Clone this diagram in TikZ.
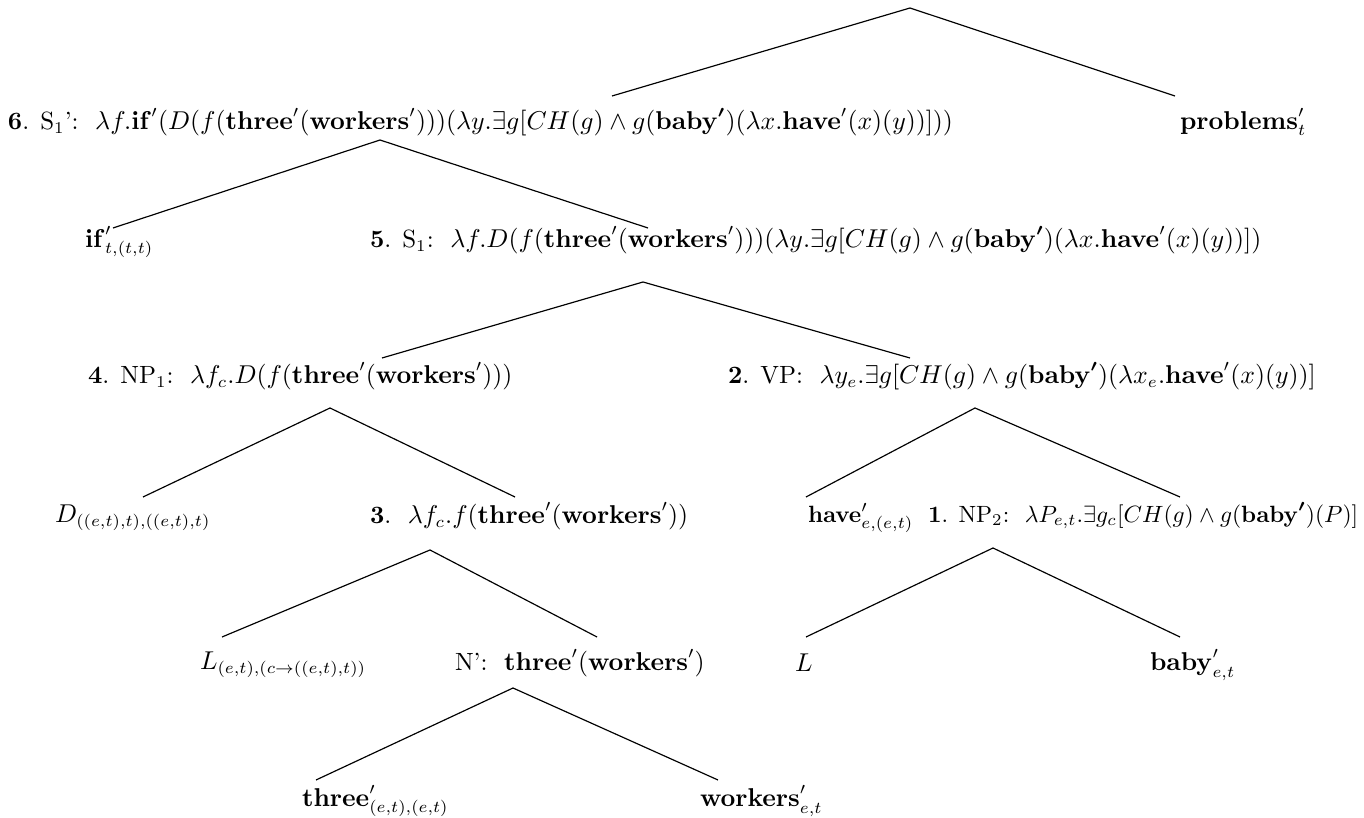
\documentclass[tikz,border=0pt]{standalone}
\usepackage{amsmath}
\newcommand{\bbaby}{\mathbf{baby}^{\boldsymbol{\prime}}}
\begin{document}
\begin{tikzpicture}[x=0.425pt,y=-0.425pt,
  lbl/.style={anchor=west,inner sep=0pt,outer sep=0pt,font=\fontsize{10.6pt}{13pt}\selectfont},
  lblsm/.style={lbl,font=\fontsize{10pt}{12pt}\selectfont},
  branch/.style={line width=0.5pt}]
\useasboundingbox (0,0) rectangle (1364,818);
% nodes
\node[lbl] (n6) at (8,122) {\textbf{6}. S$_1$':\ \ $\lambda f.\mathbf{if}'(D(f(\mathbf{three}'(\mathbf{workers}')))(\lambda y.\exists g[CH(g)\wedge g(\bbaby)(\lambda x.\mathbf{have}'(x)(y))]))$};
\node[lbl] (prob) at (1180,122) {$\mathbf{problems}'_t$};
\node[lbl] (nif) at (85,242) {$\mathbf{if}'_{t,(t,t)}$};
\node[lbl] (n5) at (370,240) {\textbf{5}. S$_1$:\ \ $\lambda f.D(f(\mathbf{three}'(\mathbf{workers}')))(\lambda y.\exists g[CH(g)\wedge g(\bbaby)(\lambda x.\mathbf{have}'(x)(y))])$};
\node[lbl] (n4) at (88,376) {\textbf{4}. NP$_1$:\ \ $\lambda f_c.D(f(\mathbf{three}'(\mathbf{workers}')))$};
\node[lbl] (n2) at (728,376) {\textbf{2}. VP:\ \ $\lambda y_e.\exists g[CH(g)\wedge g(\bbaby)(\lambda x_e.\mathbf{have}'(x)(y))]$};
\node[lbl] (nD) at (55,518) {$D_{((e,t),t),((e,t),t)}$};
\node[lbl] (n3) at (370,516) {\textbf{3}.\ \ $\lambda f_c.f(\mathbf{three}'(\mathbf{workers}'))$};
\node[lblsm] (nhave) at (808,518) {$\mathbf{have}'_{e,(e,t)}$};
\node[lblsm] (n1) at (928,516) {\textbf{1}. NP$_2$:\ \ $\lambda P_{e,t}.\exists g_c[CH(g)\wedge g(\bbaby)(P)]$};
\node[lbl] (nLf) at (200,665) {$L_{(e,t),(c\rightarrow((e,t),t))}$};
\node[lbl] (nN) at (455,663) {N':\ \ $\mathbf{three}'(\mathbf{workers}')$};
\node[lbl] (nL) at (795,663) {$L$};
\node[lbl] (nbaby) at (1150,665) {$\mathbf{baby}'_{e,t}$};
\node[lbl] (nthree) at (302,801) {$\mathbf{three}'_{(e,t),(e,t)}$};
\node[lbl] (nwork) at (700,801) {$\mathbf{workers}'_{e,t}$};
% branch points
\coordinate (root) at (910,8);
\coordinate (r6) at (612,96);   \coordinate (rprob) at (1175,96);
\coordinate (a6) at (380,140);
\coordinate (rif) at (113,228); \coordinate (r5) at (648,228);
\coordinate (a5) at (643,282);
\coordinate (r4) at (382,358);  \coordinate (r2) at (910,358);
\coordinate (a4) at (330,408);
\coordinate (rD) at (143,497);  \coordinate (r3) at (515,497);
\coordinate (a2) at (975,408);
\coordinate (rhave) at (806,497); \coordinate (r1) at (1180,497);
\coordinate (a3) at (430,550);
\coordinate (rLf) at (222,637); \coordinate (rN) at (597,637);
\coordinate (a1) at (993,548);
\coordinate (rL) at (806,637); \coordinate (rbaby) at (1180,637);
\coordinate (aN) at (513,688);
\coordinate (rthree) at (316,780); \coordinate (rwork) at (718,780);
% branches
\draw[branch] (r6) -- (root) -- (rprob);
\draw[branch] (rif) -- (a6) -- (r5);
\draw[branch] (r4) -- (a5) -- (r2);
\draw[branch] (rD) -- (a4) -- (r3);
\draw[branch] (rhave) -- (a2) -- (r1);
\draw[branch] (rLf) -- (a3) -- (rN);
\draw[branch] (rL) -- (a1) -- (rbaby);
\draw[branch] (rthree) -- (aN) -- (rwork);
\end{tikzpicture}
\end{document}
